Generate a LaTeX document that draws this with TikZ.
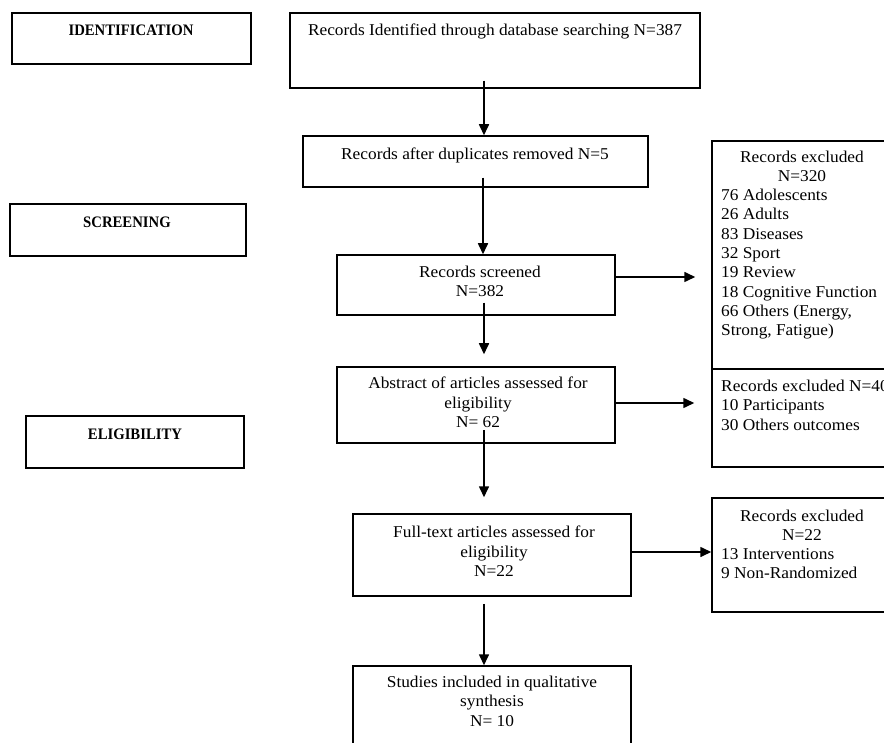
\documentclass[tikz,border=0pt]{standalone}
\usepackage{fontspec}
\setmainfont{Liberation Serif}[FakeStretch=1.05]
\newfontfamily\hdrfont{Liberation Serif}[FakeStretch=0.92]
\usetikzlibrary{arrows.meta,calc}
\begin{document}
\begin{tikzpicture}[x=1pt,y=-1pt,
  box/.style={draw, line width=1.5pt, rectangle, inner sep=0pt},
  txt/.style={inner sep=0pt, font=\fontsize{16.5}{19.3}\selectfont, align=center, anchor=north},
  lst/.style={inner sep=0pt, font=\fontsize{16.5}{19.3}\selectfont, align=left, anchor=north west},
  hdr/.style={inner sep=0pt, font=\hdrfont\fontsize{16}{18}\selectfont\bfseries},
  arr/.style={line width=1.6pt, -{Triangle[length=11pt,width=10pt]}}]
\path[use as bounding box] (0,0) rectangle (884,743);
\clip (0,0) rectangle (884,743);

% stage boxes
\node[box, minimum width=239pt, minimum height=51pt] (id) at (131.5,38.5) {};
\node[box, minimum width=236pt, minimum height=52pt] (scr) at (128,230) {};
\node[box, minimum width=218pt, minimum height=52pt] (elig) at (135,442) {};
\node[hdr] (tid) at (131,30) {IDENTIFICATION};
\node[hdr] (tscr) at (127,222) {SCREENING};
\node[hdr] (telig) at (135,434) {ELIGIBILITY};

% main flow boxes
\node[box, minimum width=410pt, minimum height=75pt] (b1) at (495,50.5) {};
\node[box, minimum width=345pt, minimum height=51pt] (b2) at (475.5,161.5) {};
\node[box, minimum width=278pt, minimum height=60pt] (b3) at (476,285) {};
\node[box, minimum width=278pt, minimum height=76pt] (b4) at (476,405) {};
\node[box, minimum width=278pt, minimum height=82pt] (b5) at (492,555) {};
\node[box, minimum width=278pt, minimum height=108pt] (b6) at (492,720) {};

\node[txt] (t1) at (495,24) {Records Identified through database searching N=387};
\node[txt] (t2) at (475,148) {Records after duplicates removed N=5};
\node[txt] (t3) at (480,266) {Records screened\\N=382};
\node[txt] (t4) at (478,377) {Abstract of articles assessed for\\eligibility\\N= 62};
\node[txt] (t5) at (494,526) {Full-text articles assessed for\\eligibility\\N=22};
\node[txt] (t6) at (492,676) {Studies included in qualitative\\synthesis\\N= 10};

% exclusion boxes
\node[box, minimum width=188pt, minimum height=228pt] (ex1) at (806,255) {};
\node[box, minimum width=188pt, minimum height=98pt] (ex2) at (806,418) {};
\node[box, minimum width=188pt, minimum height=114pt] (ex3) at (806,555) {};

\node[txt] (e1h) at (802,151) {Records excluded\\N=320};
\node[lst] (e1l) at (721,189) {76 Adolescents\\26 Adults\\83 Diseases\\32 Sport\\19 Review\\18 Cognitive Function\\66 Others (Energy,\\Strong, Fatigue)};
\node[lst] (e2l) at (721,380) {Records excluded N=40\\10 Participants\\30 Others outcomes};
\node[txt] (e3h) at (802,510) {Records excluded\\N=22};
\node[lst] (e3l) at (721,548) {13 Interventions\\9 Non-Randomized};

% arrows
\draw[arr] ($(b1.south)+(-11,-8)$) -- ($(b2.north)+(8.5,0)$);
\draw[arr] ($(b2.south)+(7.5,-10)$) -- ($(b3.north)+(7,0)$);
\draw[arr] ($(b3.south)+(8,-13)$) -- ($(b4.north)+(8,-12)$);
\draw[arr] ($(b4.south)+(8,-14)$) -- ($(b5.north)+(-8,-16)$);
\draw[arr] ($(b5.south)+(-8,7)$) -- ($(b6.north)+(-8,0)$);
\draw[arr] ($(b3.east)+(0,-8)$) -- ($(b3.east -| ex1.west)+(-16,-8)$);
\draw[arr] ($(b4.east)+(0,-2)$) -- ($(b4.east -| ex2.west)+(-17,-2)$);
\draw[arr] ($(b5.east)+(0,-3)$) -- ($(b5.east -| ex3.west)+(0,-3)$);
\end{tikzpicture}
\end{document}
